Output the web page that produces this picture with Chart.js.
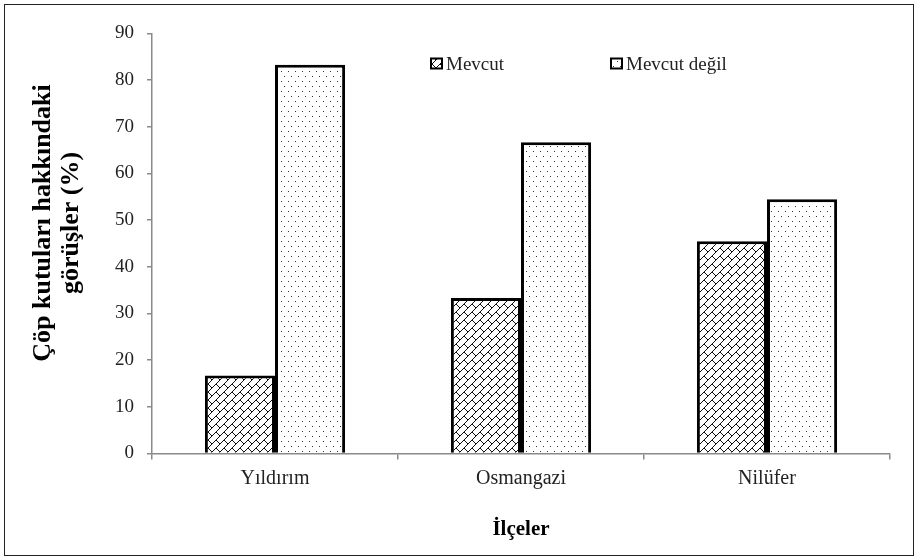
<!DOCTYPE html>
<html>
<head>
<meta charset="utf-8">
<script src="https://cdn.jsdelivr.net/npm/chart.js@4.4.1/dist/chart.umd.min.js"></script>
<style>
  html, body { margin: 0; padding: 0; background: #fff; }
  #wrap { position: relative; width: 917px; height: 558px; }
</style>
</head>
<body>
<div id="wrap"><canvas id="grafico" width="917" height="558"></canvas></div>
<script>
// dados do gráfico
const ilceler = ['Yıldırım', 'Osmangazi', 'Nilüfer'];
const mevcut = [16.7, 33.3, 45.5];
const mevcutDegil = [83.3, 66.7, 54.5];
const serieAdlari = ['Mevcut', 'Mevcut değil'];
const yTicks = [0, 10, 20, 30, 40, 50, 60, 70, 80, 90];
const tituloY = ['Çöp kutuları hakkındaki', 'görüşler (%)'];

const SERIF = '"Liberation Serif", "Times New Roman", serif';

// padrão de tijolos diagonais (Mevcut)
function padraoTijolo() {
    const c = document.createElement('canvas');
    c.width = 8; c.height = 8;
    const g = c.getContext('2d');
    g.fillStyle = '#fff';
    g.fillRect(0, 0, 8, 8);
    g.strokeStyle = '#111';
    g.lineWidth = 1;
    g.beginPath();
    g.moveTo(-1, 9); g.lineTo(9, -1);
    g.moveTo(-1, 1); g.lineTo(1, -1);
    g.moveTo(7, 9); g.lineTo(9, 7);
    g.moveTo(0, 0); g.lineTo(4, 4);
    g.stroke();
    return g.createPattern(c, 'repeat');
}

// padrão de pontos (Mevcut değil)
function padraoPontos() {
    const c = document.createElement('canvas');
    c.width = 7; c.height = 10;
    const g = c.getContext('2d');
    g.fillStyle = '#fff';
    g.fillRect(0, 0, 7, 10);
    g.fillStyle = '#333';
    g.fillRect(1, 1, 1, 1);
    g.fillRect(4, 6, 1, 1);
    return g.createPattern(c, 'repeat');
}

const tijolo = padraoTijolo();
const pontos = padraoPontos();

// moldura, título do eixo Y e legenda dentro da área do gráfico
const extrasPlugin = {
    id: 'extras',
    afterDraw(chart) {
        const ctx = chart.ctx;
        const a = chart.chartArea;
        ctx.save();
        // moldura
        ctx.strokeStyle = '#222';
        ctx.lineWidth = 1;
        ctx.strokeRect(4.5, 4.5, 909, 551);

        // título do eixo Y (duas linhas, giradas)
        ctx.fillStyle = '#000';
        ctx.font = 'bold 26px ' + SERIF;
        ctx.textAlign = 'center';
        ctx.textBaseline = 'middle';
        const yMeioTitulo = a.top + 189.5;
        tituloY.forEach((linha, i) => {
            ctx.save();
            ctx.translate(43 + i * 28, yMeioTitulo);
            ctx.rotate(-Math.PI / 2);
            ctx.fillText(linha, 0, 0);
            ctx.restore();
        });

        // legenda
        const xs = [a.left + 279, a.left + 459];
        const fills = [tijolo, pontos];
        const yMeio = a.top + 30;
        ctx.font = '19px ' + SERIF;
        ctx.textAlign = 'left';
        serieAdlari.forEach((nome, i) => {
            ctx.fillStyle = fills[i];
            ctx.fillRect(xs[i], yMeio - 5, 11, 10);
            ctx.strokeStyle = '#000';
            ctx.lineWidth = 2;
            ctx.strokeRect(xs[i], yMeio - 5, 11, 10);
            ctx.fillStyle = '#222';
            ctx.fillText(nome, xs[i] + 15, yMeio + 2);
        });
        ctx.restore();
    }
};

const ctx = document.getElementById('grafico').getContext('2d');
new Chart(ctx, {
    type: 'bar',
    data: {
        labels: ilceler,
        datasets: [{
            label: serieAdlari[0],
            data: mevcut,
            backgroundColor: tijolo,
            borderColor: '#000',
            borderWidth: 3
        }, {
            label: serieAdlari[1],
            data: mevcutDegil,
            backgroundColor: pontos,
            borderColor: '#000',
            borderWidth: 3
        }]
    },
    options: {
        responsive: false,
        animation: false,
        devicePixelRatio: 1,
        layout: { padding: { left: 0, right: 27, top: 33.5, bottom: 0 } },
        plugins: {
            legend: { display: false },
            tooltip: { enabled: false }
        },
        datasets: {
            bar: { categoryPercentage: 0.57, barPercentage: 1 }
        },
        scales: {
            x: {
                afterFit: s => { s.height = 104.5; },
                grid: {
                    offset: true,
                    drawOnChartArea: false,
                    tickLength: 6,
                    color: '#8a8a8a',
                    lineWidth: 1.5
                },
                border: { color: '#8a8a8a', width: 1.5 },
                ticks: {
                    padding: 7,
                    color: '#222',
                    font: { family: SERIF, size: 20 }
                },
                title: {
                    display: true,
                    text: 'İlçeler',
                    color: '#000',
                    padding: { top: 0, bottom: 16 },
                    font: { family: SERIF, size: 21, weight: 'bold' }
                }
            },
            y: {
                min: 0,
                max: 90,
                afterFit: s => { s.width = 152; },
                afterBuildTicks: s => { s.ticks = yTicks.map(v => ({ value: v })); },
                grid: {
                    drawOnChartArea: false,
                    tickLength: 5,
                    color: '#8a8a8a',
                    lineWidth: 1.5
                },
                border: { color: '#8a8a8a', width: 1.5 },
                ticks: {
                    padding: 13,
                    color: '#222',
                    font: { family: SERIF, size: 19 }
                }
            }
        }
    },
    plugins: [extrasPlugin]
});
</script>
</body>
</html>
